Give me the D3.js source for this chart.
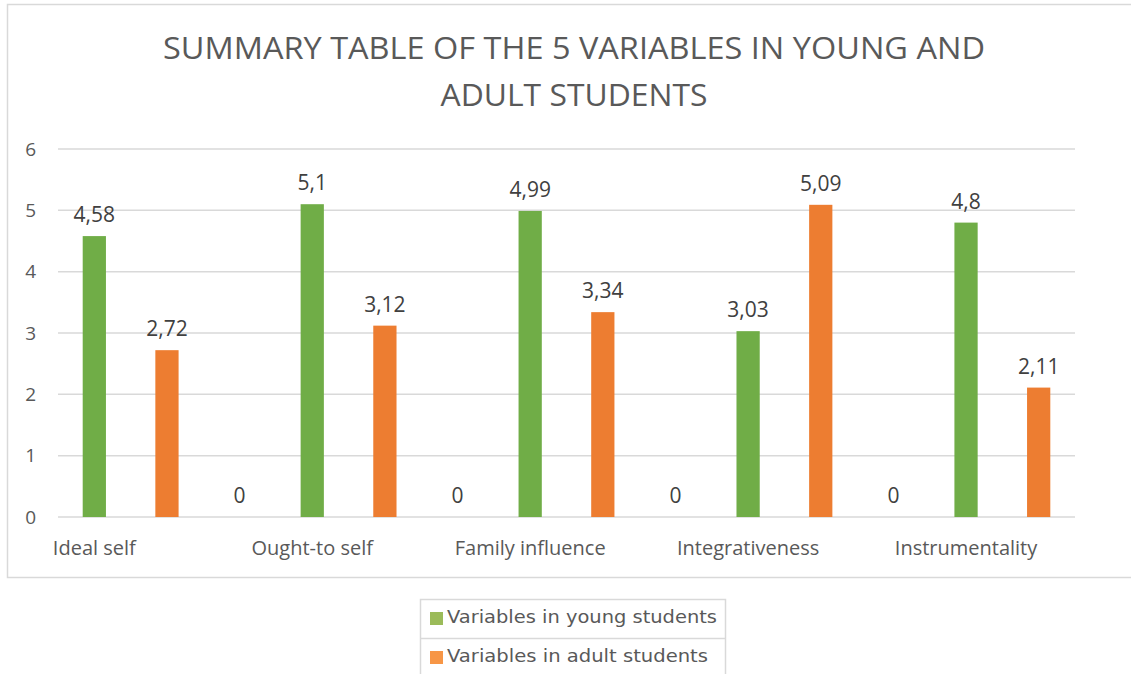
<!DOCTYPE html>
<html>
<head>
<meta charset="utf-8">
<script src="https://cdn.jsdelivr.net/npm/d3@7"></script>
<style>
  body { margin: 0; background: #fff; }
  svg { display: block; }
</style>
</head>
<body>
<div id="chart"></div>
<script>
var categories = ['Ideal self', 'Ought-to self', 'Family influence', 'Integrativeness', 'Instrumentality'];
var young = [4.58, 5.1, 4.99, 3.03, 4.8];
var adult = [2.72, 3.12, 3.34, 5.09, 2.11];
// empty spacer rows between categories in the sheet, shown as "0"
var spacer = [0, 0, 0, 0];
var yTicks = [0, 1, 2, 3, 4, 5, 6];
var seriesNames = ['Variables in young students', 'Variables in adult students'];
var titleLines = ['SUMMARY TABLE OF THE 5 VARIABLES IN YOUNG AND', 'ADULT STUDENTS'];

var width = 1131;
var height = 674;
var plot = { left: 58, right: 1075, top: 149, bottom: 517 };

var colors = { young: '#70AD47', adult: '#ED7D31', spacer: 'none' };
var legendColors = ['#9BBB59', '#F79646'];

// each sheet row is one slot on the x axis
var slots = [];
categories.forEach(function(c, i) {
    slots.push({ slot: slots.length, series: 'young', value: young[i], label: c });
    slots.push({ slot: slots.length, series: 'adult', value: adult[i], label: '' });
    if (i < spacer.length) {
        slots.push({ slot: slots.length, series: 'spacer', value: spacer[i], label: '' });
    }
});

var svg = d3.select('#chart')
    .append('svg')
    .attr('width', width)
    .attr('height', height);

// chart border
svg.append('rect')
    .attr('x', 7.5)
    .attr('y', 4.5)
    .attr('width', 1140)
    .attr('height', 573)
    .attr('fill', 'none')
    .attr('stroke', '#d9d9d9')
    .attr('stroke-width', 1.5);

// title
svg.selectAll('.title')
    .data(titleLines)
    .enter()
    .append('text')
    .attr('class', 'title')
    .attr('x', 574)
    .attr('y', function(d, i) { return 59 + i * 47; })
    .attr('text-anchor', 'middle')
    .attr('textLength', function(d, i) { return i === 0 ? 822 : 267; })
    .attr('lengthAdjust', 'spacingAndGlyphs')
    .style('font-family', 'Open Sans, sans-serif')
    .style('font-size', '31px')
    .style('fill', '#595959')
    .text(function(d) { return d; });

var xscale = d3.scaleBand()
    .domain(slots.map(function(d) { return d.slot; }))
    .range([plot.left, plot.right])
    .paddingInner(0.68)
    .paddingOuter(0.34);

var yscale = d3.scaleLinear()
    .domain([0, 6])
    .range([plot.bottom, plot.top]);

// gridlines
svg.append('g')
    .selectAll('line')
    .data(yTicks)
    .enter()
    .append('line')
    .attr('x1', plot.left)
    .attr('x2', plot.right)
    .attr('y1', function(d) { return yscale(d); })
    .attr('y2', function(d) { return yscale(d); })
    .attr('stroke', '#d9d9d9')
    .attr('stroke-width', 1.5);

// y axis labels
var yaxis = d3.axisLeft(yscale)
    .tickValues(yTicks)
    .tickFormat(d3.format('d'))
    .tickSize(0)
    .tickPadding(0);
var yg = svg.append('g')
    .attr('transform', 'translate(36,0)')
    .call(yaxis);
yg.select('.domain').remove();
yg.selectAll('text')
    .style('font-family', 'Open Sans, sans-serif')
    .style('font-size', '19px')
    .style('fill', '#595959');

// x axis labels
var xaxis = d3.axisBottom(xscale)
    .tickSize(0)
    .tickPadding(0)
    .tickFormat(function(s) { return slots[s].label; });
var xg = svg.append('g')
    .attr('transform', 'translate(0,' + plot.bottom + ')')
    .call(xaxis);
xg.select('.domain').remove();
xg.selectAll('text')
    .attr('dy', null)
    .attr('y', 38)
    .style('font-family', 'Open Sans, sans-serif')
    .style('font-size', '20px')
    .style('fill', '#595959');

// bars
svg.append('g')
    .selectAll('rect')
    .data(slots.filter(function(d) { return d.series !== 'spacer'; }))
    .enter()
    .append('rect')
    .attr('x', function(d) { return xscale(d.slot); })
    .attr('y', function(d) { return yscale(d.value); })
    .attr('width', xscale.bandwidth())
    .attr('height', function(d) { return plot.bottom - yscale(d.value); })
    .attr('fill', function(d) { return colors[d.series]; });

// data labels
svg.append('g')
    .selectAll('text')
    .data(slots)
    .enter()
    .append('text')
    .attr('x', function(d) { return xscale(d.slot) + xscale.bandwidth() / 2; })
    .attr('y', function(d) { return yscale(d.value) - 14; })
    .attr('text-anchor', 'middle')
    .style('font-family', 'Open Sans, sans-serif')
    .style('font-size', '21px')
    .style('fill', '#404040')
    .text(function(d) { return String(d.value).replace('.', ','); });

// legend
var legend = svg.append('g');
legend.append('rect')
    .attr('x', 420.5)
    .attr('y', 599.5)
    .attr('width', 305)
    .attr('height', 90)
    .attr('fill', '#fff')
    .attr('stroke', '#d9d9d9')
    .attr('stroke-width', 1.5);
legend.append('line')
    .attr('x1', 420.5)
    .attr('x2', 725.5)
    .attr('y1', 638.5)
    .attr('y2', 638.5)
    .attr('stroke', '#d9d9d9')
    .attr('stroke-width', 1.5);

var items = legend.selectAll('.item')
    .data(seriesNames)
    .enter()
    .append('g')
    .attr('class', 'item')
    .attr('transform', function(d, i) { return 'translate(0,' + (i * 39) + ')'; });
items.append('rect')
    .attr('x', 430)
    .attr('y', 612)
    .attr('width', 13)
    .attr('height', 13)
    .attr('fill', function(d, i) { return legendColors[i]; });
items.append('text')
    .attr('x', 447)
    .attr('y', 623)
    .attr('textLength', function(d, i) { return i === 0 ? 270 : 261; })
    .attr('lengthAdjust', 'spacingAndGlyphs')
    .style('font-family', 'DejaVu Sans, sans-serif')
    .style('font-size', '18px')
    .style('fill', '#595959')
    .text(function(d) { return d; });
</script>
</body>
</html>
